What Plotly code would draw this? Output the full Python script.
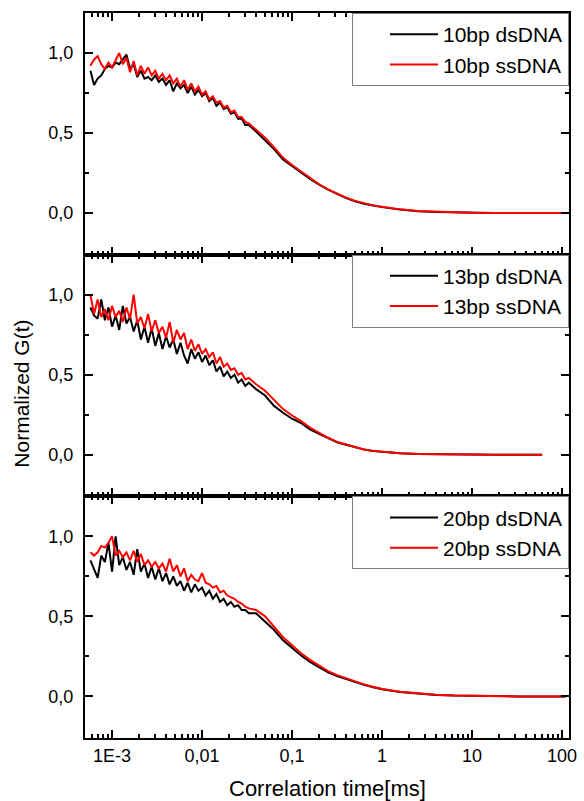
import plotly.graph_objects as go
from plotly.subplots import make_subplots

# Correlation time (ms)
t_ms = [0.000575, 0.000631, 0.000692, 0.000759, 0.000832, 0.000912, 0.001, 0.001096,
        0.001202, 0.001318, 0.001445, 0.001585, 0.001738, 0.001905, 0.002089, 0.002291,
        0.002512, 0.002754, 0.00302, 0.003311, 0.003631, 0.003981, 0.004365, 0.004786,
        0.005248, 0.005754, 0.00631, 0.006918, 0.007586, 0.008318, 0.00912, 0.01,
        0.01096, 0.01202, 0.01318, 0.01445, 0.01585, 0.01738, 0.01905, 0.02089, 0.02291,
        0.02512, 0.02754, 0.0302, 0.03311,
        0.0398, 0.0501, 0.0631, 0.0794, 0.1, 0.126, 0.158, 0.2, 0.251, 0.316, 0.398,
        0.501, 0.631, 0.794, 1.0, 1.58, 2.51, 3.98, 6.31, 10, 17.8, 31.6, 60, 110]

g10_ds = [0.89, 0.80, 0.84, 0.86, 0.90, 0.92, 0.91, 0.94, 0.93, 0.96, 0.99, 0.90, 0.93, 0.85,
          0.89, 0.84, 0.85, 0.83, 0.86, 0.82, 0.84, 0.80, 0.83, 0.76, 0.81, 0.78, 0.80, 0.75,
          0.79, 0.74, 0.77, 0.73, 0.75, 0.70, 0.72, 0.67, 0.69, 0.65, 0.66, 0.62, 0.63, 0.59,
          0.59, 0.55, 0.55,
          0.51, 0.455, 0.40, 0.335, 0.293, 0.254, 0.213, 0.177, 0.146, 0.12, 0.094, 0.074,
          0.058, 0.047, 0.037, 0.022, 0.012, 0.007, 0.004, 0.002, 0.001, 0.0, 0.0, 0.0]
g10_ss = [0.92, 0.96, 0.98, 0.93, 0.90, 0.94, 0.91, 0.95, 1.00, 0.93, 0.97, 0.88, 0.95, 0.86,
          0.92, 0.87, 0.91, 0.86, 0.89, 0.84, 0.87, 0.83, 0.86, 0.81, 0.84, 0.79, 0.83, 0.77,
          0.81, 0.76, 0.79, 0.74, 0.76, 0.71, 0.73, 0.69, 0.70, 0.66, 0.67, 0.63, 0.64, 0.60,
          0.60, 0.57, 0.56,
          0.52, 0.47, 0.41, 0.345, 0.30, 0.26, 0.218, 0.18, 0.148, 0.122, 0.096, 0.076,
          0.06, 0.048, 0.039, 0.023, 0.013, 0.008, 0.004, 0.002, 0.001, 0.0, 0.0, 0.0]

g13_ds = [0.92, 0.87, 0.85, 0.97, 0.84, 0.92, 0.80, 0.87, 0.78, 0.93, 0.82, 0.86, 0.77, 0.84,
          0.72, 0.80, 0.70, 0.79, 0.68, 0.76, 0.66, 0.74, 0.67, 0.72, 0.63, 0.70, 0.62, 0.57,
          0.66, 0.60, 0.64, 0.58, 0.62, 0.56, 0.59, 0.52, 0.55, 0.49, 0.52, 0.48, 0.50, 0.45,
          0.47, 0.43, 0.45,
          0.41, 0.37, 0.305, 0.262, 0.225, 0.198, 0.158, 0.13, 0.102, 0.078, 0.062, 0.047,
          0.032, 0.023, 0.017, 0.009, 0.005, 0.003, 0.001, 0.0, 0.0, 0.0, 0.0]
g13_ss = [1.00, 0.88, 0.97, 0.86, 0.91, 0.84, 0.93, 0.86, 0.90, 0.83, 0.92, 0.85, 1.00, 0.82,
          0.86, 0.79, 0.88, 0.77, 0.84, 0.76, 0.80, 0.73, 0.83, 0.70, 0.78, 0.72, 0.76, 0.66,
          0.72, 0.65, 0.69, 0.63, 0.66, 0.61, 0.64, 0.57, 0.61, 0.55, 0.57, 0.53, 0.54, 0.50,
          0.51, 0.47, 0.48,
          0.44, 0.40, 0.34, 0.285, 0.245, 0.21, 0.17, 0.137, 0.106, 0.08, 0.064, 0.049,
          0.033, 0.024, 0.018, 0.009, 0.005, 0.003, 0.001, 0.0, 0.0, 0.0, 0.0]

g20_ds = [0.85, 0.80, 0.74, 0.88, 0.84, 0.96, 0.78, 1.00, 0.82, 0.87, 0.79, 0.84, 0.76, 0.92,
          0.78, 0.83, 0.74, 0.81, 0.73, 0.80, 0.72, 0.77, 0.70, 0.75, 0.69, 0.72, 0.66, 0.71,
          0.65, 0.70, 0.66, 0.68, 0.63, 0.66, 0.61, 0.64, 0.59, 0.61, 0.57, 0.59, 0.56, 0.57,
          0.54, 0.54, 0.52,
          0.52, 0.47, 0.415, 0.35, 0.30, 0.255, 0.216, 0.185, 0.15, 0.127, 0.107, 0.088,
          0.072, 0.057, 0.044, 0.027, 0.017, 0.009, 0.005, 0.003, 0.001, 0.0, 0.0, 0.0]
g20_ss = [0.90, 0.88, 0.90, 0.94, 0.93, 0.96, 1.00, 0.88, 0.91, 0.87, 0.90, 0.85, 0.91, 0.84,
          0.89, 0.82, 0.85, 0.81, 0.84, 0.80, 0.83, 0.78, 0.86, 0.78, 0.82, 0.75, 0.80, 0.72,
          0.76, 0.73, 0.72, 0.77, 0.71, 0.70, 0.68, 0.69, 0.65, 0.66, 0.63, 0.62, 0.61, 0.59,
          0.58, 0.56, 0.55,
          0.54, 0.50, 0.435, 0.37, 0.32, 0.27, 0.228, 0.195, 0.158, 0.133, 0.112, 0.092,
          0.075, 0.06, 0.046, 0.029, 0.018, 0.01, 0.005, 0.003, 0.001, 0.0, 0.0, 0.0]

labels = ["10bp", "13bp", "20bp"]
ds_series = [g10_ds, g13_ds, g20_ds]
ss_series = [g10_ss, g13_ss, g20_ss]

x_tickvals = [0.001, 0.01, 0.1, 1, 10, 100]
x_ticktext = ["1E-3", "0,01", "0,1", "1", "10", "100"]
y_tickvals = [0.0, 0.5, 1.0]
y_ticktext = ["0,0", "0,5", "1,0"]
y_minor = [0.25, 0.75]
x_minor = [m * 10.0 ** e for e in range(-4, 3) for m in range(2, 10)]

FONT = "Liberation Sans, Arial, sans-serif"

fig = make_subplots(rows=3, cols=1, shared_xaxes=True, vertical_spacing=0)

legend_names = ["legend", "legend2", "legend3"]
for i in range(3):
    n_ds = len(ds_series[i])
    n_ss = len(ss_series[i])
    fig.add_trace(go.Scatter(x=t_ms[:n_ds], y=ds_series[i], mode="lines",
                             line=dict(color="black", width=2),
                             name=labels[i] + " dsDNA", legend=legend_names[i]),
                  row=i + 1, col=1)
    fig.add_trace(go.Scatter(x=t_ms[:n_ss], y=ss_series[i], mode="lines",
                             line=dict(color="#ff0000", width=2),
                             name=labels[i] + " ssDNA", legend=legend_names[i]),
                  row=i + 1, col=1)

fig.update_xaxes(type="log", range=[-3.3005, 2.0765], showline=True, linecolor="black",
                 linewidth=2, mirror="ticks", ticks="inside", ticklen=8, tickwidth=1.5,
                 tickcolor="black", tickmode="array", tickvals=x_tickvals, ticktext=x_ticktext,
                 minor=dict(tickmode="array", tickvals=x_minor, ticks="inside", ticklen=4,
                            tickwidth=1.5, tickcolor="black", showgrid=False),
                 showgrid=False, zeroline=False,
                 tickfont=dict(family=FONT, size=18, color="black"))
fig.update_yaxes(range=[-0.26, 1.25], showline=True, linecolor="black", linewidth=2,
                 mirror="ticks", ticks="inside", ticklen=8, tickwidth=1.5, tickcolor="black",
                 tickmode="array", tickvals=y_tickvals, ticktext=y_ticktext,
                 minor=dict(tickmode="array", tickvals=y_minor, ticks="inside", ticklen=4,
                            tickwidth=1.5, tickcolor="black", showgrid=False),
                 showgrid=False, zeroline=False, ticklabelstandoff=6,
                 tickfont=dict(family=FONT, size=18, color="black"))

leg_common = dict(xref="paper", yref="paper", x=1, xanchor="right", yanchor="top",
                  bgcolor="white", bordercolor="#808080", borderwidth=1,
                  font=dict(family=FONT, size=21, color="black"), indentation=32,
                  itemwidth=48, tracegroupgap=0)

fig.update_layout(
    width=584, height=801,
    margin=dict(l=85, r=7, t=13, b=63),
    paper_bgcolor="white", plot_bgcolor="white",
    font=dict(family=FONT, color="black"),
    legend=dict(y=1.0, **leg_common),
    legend2=dict(y=2 / 3, **leg_common),
    legend3=dict(y=1 / 3, **leg_common),
    annotations=[
        dict(text="Correlation time[ms]", xref="paper", yref="paper", x=0.5, y=-0.069,
             xanchor="center", yanchor="middle", showarrow=False,
             font=dict(family=FONT, size=22, color="black")),
        dict(text="Normalized G(t)", xref="paper", yref="paper", x=-0.13, y=0.475,
             xanchor="center", yanchor="middle", textangle=-90, showarrow=False,
             font=dict(family=FONT, size=21, color="black")),
    ],
)

fig.write_html("out.html", config={"displayModeBar": False},
               post_script="document.body.style.margin='0px';"
                           "document.body.style.overflow='hidden';")
